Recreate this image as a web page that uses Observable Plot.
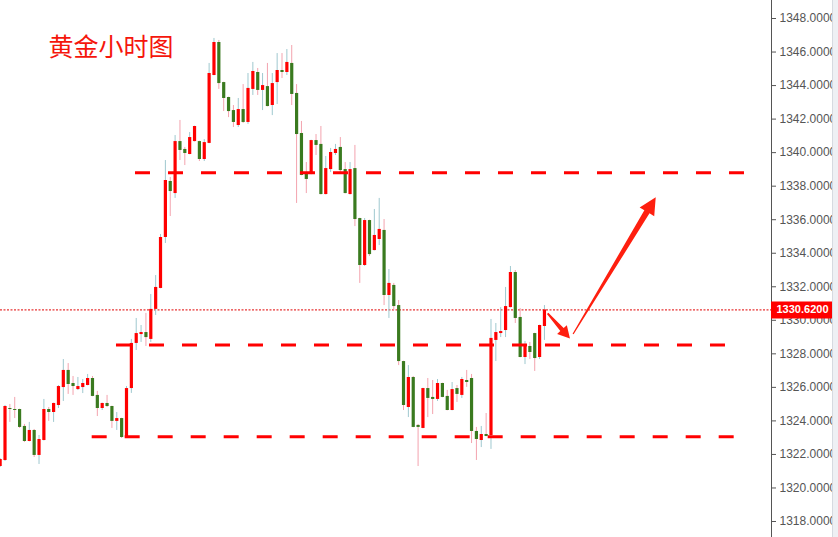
<!DOCTYPE html>
<html>
<head>
<meta charset="utf-8">
<script src="https://cdn.jsdelivr.net/npm/d3@7"></script>
<script src="https://cdn.jsdelivr.net/npm/@observablehq/plot@0.6"></script>
<style>
  html, body { margin: 0; padding: 0; background: #fff; }
  #wrap { position: relative; width: 838px; height: 537px; overflow: hidden; }
  #strip { position: absolute; left: 832px; top: 0; width: 6px; height: 537px; background: #eef0f4; border-left: 1px solid #d6dae0; box-sizing: border-box; }
</style>
</head>
<body>
<div id="wrap"><div id="strip"></div></div>
<script>
// Hourly gold candles (index = hour)
const opens = [1321.28,1321.64,1324.74,1324.68,1324.68,1323.67,1322.77,1323.43,1321.94,1322.83,
1324.68,1324.50,1324.92,1325.99,1327.01,1326.23,1325.87,1325.99,1326.11,1326.53,
1325.52,1324.74,1325.04,1324.86,1323.97,1324.14,1323.01,1325.93,1328.62,1329.15,
1329.27,1328.86,1330.65,1331.90,1334.94,1338.28,1337.56,1340.66,1340.19,1339.89,
1340.66,1340.66,1339.59,1340.55,1344.60,1346.57,1344.18,1343.29,1342.51,1341.62,
1342.57,1341.80,1343.77,1344.78,1343.71,1343.94,1342.81,1344.18,1344.90,1344.78,
1345.32,1343.53,1341.14,1338.70,1338.70,1340.72,1340.49,1337.50,1338.99,1339.95,
1340.31,1338.99,1337.50,1339.05,1336.07,1333.27,1335.95,1334.16,1334.82,1335.36,
1331.48,1332.08,1330.88,1327.54,1324.80,1326.59,1323.73,1323.55,1325.93,1325.40,
1325.28,1326.23,1325.46,1324.62,1325.93,1325.52,1326.41,1326.53,1323.37,1322.83,
1323.19,1323.13,1328.80,1329.21,1329.39,1330.76,1332.85,1330.17,1327.78,1328.44,
1329.21,1327.78,1329.63];
const highs = [1321.76,1324.92,1324.98,1325.40,1324.70,1323.79,1323.91,1323.49,1323.13,1325.28,
1324.80,1325.06,1326.11,1327.66,1327.42,1326.65,1326.59,1326.47,1326.77,1326.65,
1325.76,1325.06,1325.52,1324.88,1324.50,1324.16,1326.05,1328.86,1330.11,1329.69,
1330.41,1331.54,1332.67,1335.12,1339.53,1338.52,1341.02,1341.92,1340.31,1341.20,
1341.58,1340.68,1340.78,1345.32,1346.81,1346.69,1344.20,1343.31,1342.81,1343.23,
1344.06,1344.72,1345.38,1345.02,1344.72,1345.32,1344.72,1345.91,1345.91,1346.15,
1346.39,1344.06,1341.86,1339.41,1340.74,1341.08,1341.56,1339.77,1340.25,1340.49,
1340.90,1339.41,1339.41,1340.43,1336.09,1336.07,1335.97,1336.61,1337.27,1336.01,
1333.03,1332.20,1331.18,1327.56,1327.30,1326.65,1323.79,1325.95,1326.53,1326.41,
1326.47,1326.25,1325.82,1326.29,1326.11,1326.59,1327.01,1326.77,1323.61,1323.67,
1324.44,1330.05,1329.81,1330.76,1331.96,1333.21,1332.97,1330.70,1328.74,1328.68,
1329.23,1329.71,1330.88];
const lows = [1321.22,1321.58,1323.91,1324.14,1323.55,1322.71,1322.75,1321.82,1321.40,1322.80,
1323.97,1323.91,1324.74,1325.16,1325.58,1325.52,1325.81,1325.63,1326.09,1325.44,
1324.26,1324.62,1324.80,1323.55,1323.43,1322.95,1322.99,1325.64,1328.20,1328.68,
1328.44,1328.68,1330.29,1331.88,1334.58,1336.19,1337.27,1339.53,1339.23,1339.87,
1340.64,1339.47,1339.47,1340.53,1344.58,1343.77,1342.45,1342.09,1341.50,1341.50,
1341.74,1341.68,1343.41,1343.41,1342.51,1342.73,1342.21,1342.87,1344.42,1344.60,
1342.81,1336.97,1338.62,1337.56,1338.68,1339.83,1337.48,1337.48,1338.81,1339.83,
1338.81,1337.54,1337.48,1335.59,1332.20,1333.21,1333.81,1334.14,1334.46,1330.88,
1330.11,1330.58,1327.30,1324.62,1324.20,1323.59,1321.28,1323.53,1324.20,1324.38,
1325.16,1325.38,1324.60,1324.60,1325.10,1325.34,1326.00,1322.65,1321.64,1322.41,
1323.05,1322.30,1327.54,1328.97,1328.97,1330.74,1329.81,1327.76,1327.36,1327.66,
1326.95,1327.66,1328.80];
const closes = [1321.70,1324.86,1324.68,1324.62,1323.61,1322.77,1323.43,1321.94,1322.89,1324.68,
1324.50,1325.04,1326.05,1327.01,1326.17,1326.05,1326.05,1326.23,1326.53,1325.46,
1324.74,1325.04,1324.86,1323.97,1324.14,1323.01,1325.93,1328.62,1329.21,1329.27,
1328.97,1330.65,1331.96,1334.94,1338.34,1337.68,1340.66,1340.13,1339.95,1340.90,
1341.56,1339.59,1340.60,1344.72,1346.57,1344.12,1343.23,1342.45,1341.80,1342.57,
1341.80,1343.83,1344.84,1343.71,1344.00,1342.75,1344.12,1344.90,1344.78,1345.38,
1343.47,1341.08,1338.64,1338.40,1340.72,1340.43,1337.50,1339.05,1340.01,1340.19,
1338.93,1337.56,1338.99,1336.01,1333.27,1335.95,1333.92,1335.06,1335.42,1331.48,
1332.20,1330.82,1327.54,1324.92,1326.59,1323.61,1323.61,1325.93,1325.34,1325.28,
1326.23,1325.40,1324.62,1325.87,1325.58,1326.47,1326.29,1323.37,1322.89,1323.19,
1323.07,1328.92,1329.27,1329.33,1330.82,1332.85,1330.11,1327.78,1328.50,1328.08,
1327.72,1329.69,1330.62];

const yTicks = [1318,1320,1322,1324,1326,1328,1330,1332,1334,1336,1338,1340,1342,1344,1346,1348];
const lastPrice = 1330.62;

// Horizontal support / resistance levels (dashed)
const levelValues = [1338.80, 1328.53, 1323.06];
const levelStart = [27.85, 23.94, 18.94];
const levelEnd = [153.4, 149.3, 151.2];

// Forecast arrows
const arrowFromX = [112.76, 118.0];
const arrowFromY = [1330.38, 1329.15];
const arrowToX = [117.35, 135.0];
const arrowToY = [1328.88, 1337.31];
const arrowHead = [12, 17];
const arrowHalf = [6.5, 8.5];
const arrowTail = [1.8, 1.2];
const arrowNeck = [4.5, 6];

const title = "黄金小时图";

const candles = opens.map((o, i) => ({i, o, h: highs[i], l: lows[i], c: closes[i]}));
const up = candles.filter(d => d.c >= d.o);
const down = candles.filter(d => d.c < d.o);
const levels = levelValues.map((v, k) => ({v, x1: levelStart[k], x2: levelEnd[k]}));
const arrows = arrowFromX.map((x, k) => ({x1: x, y1: arrowFromY[k], x2: arrowToX[k], y2: arrowToY[k],
  head: arrowHead[k], half: arrowHalf[k], tail: arrowTail[k], neck: arrowNeck[k]}));

const xMin = 0.074, xMax = 158.72, xLabelEnd = 171.3;
const RED = "#ff0000", GREEN = "#3a7a1f", BLUEWICK = "#9fc8cf", PINKWICK = "#f3a3ae";

function arrowLayer(index, scales) {
  const g = d3.create("svg:g");
  for (const a of arrows) {
    const x0 = scales.x(a.x1), y0 = scales.y(a.y1), x1 = scales.x(a.x2), y1 = scales.y(a.y2);
    const dx = x1 - x0, dy = y1 - y0, L = Math.hypot(dx, dy);
    const ux = dx / L, uy = dy / L, nx = -uy, ny = ux;
    const bx = x1 - ux * a.head, by = y1 - uy * a.head;
    const pts = [
      [x0 + nx * a.tail / 2, y0 + ny * a.tail / 2],
      [bx + nx * a.neck / 2, by + ny * a.neck / 2],
      [bx + nx * a.half, by + ny * a.half],
      [x1, y1],
      [bx - nx * a.half, by - ny * a.half],
      [bx - nx * a.neck / 2, by - ny * a.neck / 2],
      [x0 - nx * a.tail / 2, y0 - ny * a.tail / 2]
    ];
    g.append("polygon").attr("points", pts.map(p => p.join(",")).join(" "))
      .attr("fill", "#fe1f0f");
  }
  return g.node();
}

const chart = Plot.plot({
  width: 838,
  height: 537,
  marginLeft: 0,
  marginRight: 67,
  marginTop: 0,
  marginBottom: 0,
  style: {fontFamily: "'Liberation Sans', Arial, sans-serif", fontSize: "12px", color: "#555", background: "transparent"},
  x: {domain: [xMin, xMax], axis: null},
  y: {domain: [1317.046, 1349.074]},
  marks: [
    Plot.ruleY([lastPrice], {x1: xMin, x2: xMax, stroke: "#e00000", strokeWidth: 1, strokeDasharray: "2,1.5"}),
    Plot.ruleX(up, {x: "i", y1: "l", y2: "h", stroke: BLUEWICK, strokeWidth: 1}),
    Plot.ruleX(down, {x: "i", y1: "l", y2: "h", stroke: PINKWICK, strokeWidth: 1}),
    Plot.ruleX(up, {x: "i", y1: "o", y2: "c", stroke: RED, strokeWidth: 3.2}),
    Plot.ruleX(down, {x: "i", y1: "o", y2: "c", stroke: GREEN, strokeWidth: 3.2}),
    Plot.ruleY(levels, {y: "v", x1: "x1", x2: "x2", stroke: "#ff0000", strokeWidth: 3, strokeDasharray: "15,18"}),
    arrowLayer,
    Plot.ruleX([xMax], {stroke: "#555", strokeWidth: 1}),
    Plot.axisY(yTicks, {anchor: "right", tickSize: 4, tickPadding: 4, tickFormat: d => d.toFixed(4), fill: "#555", stroke: "#555", fontSize: 12, label: null}),
    Plot.ruleY([lastPrice], {x1: xMax, x2: xLabelEnd, stroke: "#ff0000", strokeWidth: 17}),
    Plot.text([lastPrice], {x: xMax, y: d => d, text: d => d.toFixed(4), textAnchor: "start", dx: 5, fill: "white", fontWeight: "bold", fontSize: 11}),
    Plot.text([title], {frameAnchor: "top-left", dx: 48, dy: 47, text: d => d, textAnchor: "start", lineAnchor: "middle", fontSize: 25, fill: "#f5160c", fontFamily: "'Noto Sans CJK SC', sans-serif"})
  ]
});
const wrap = document.getElementById("wrap");
wrap.insertBefore(chart, wrap.firstChild);
</script>
</body>
</html>
